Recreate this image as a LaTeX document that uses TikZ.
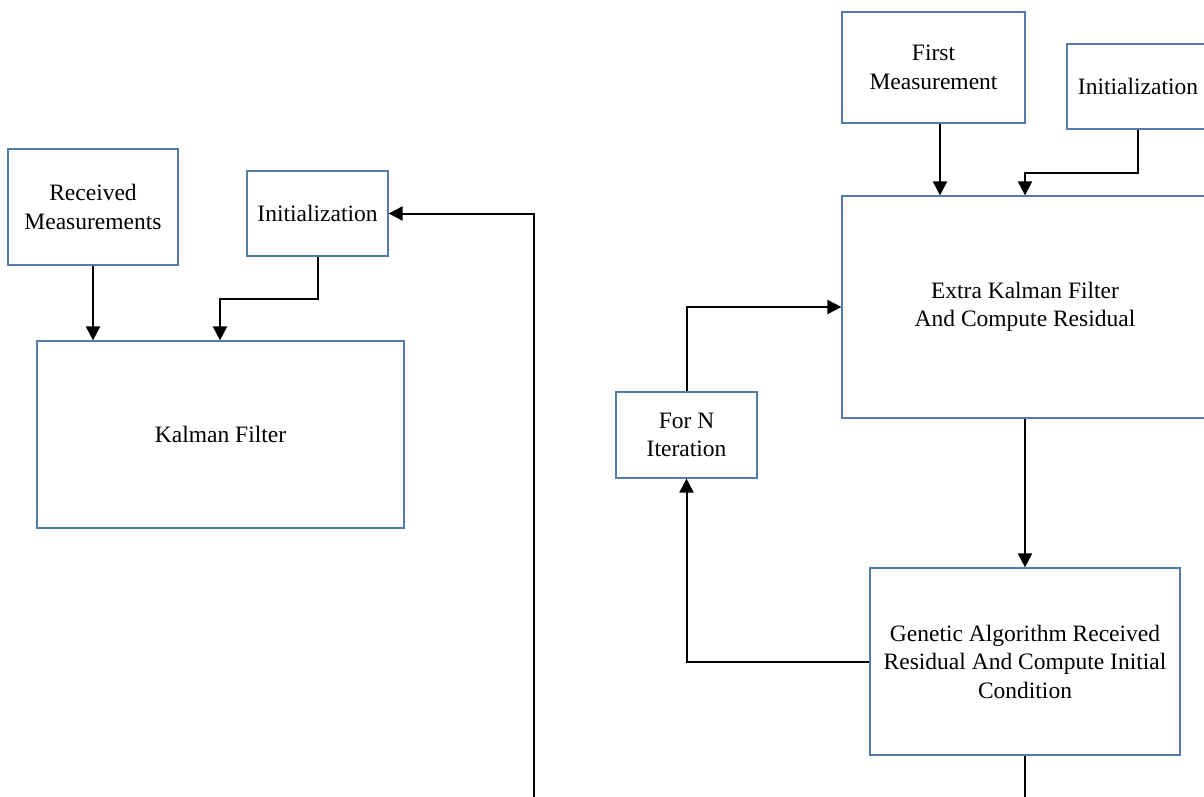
\documentclass[tikz,border=0pt]{standalone}
\usepackage{fontspec}
\setmainfont{Liberation Serif}
\usetikzlibrary{arrows.meta}
\begin{document}
\begin{tikzpicture}[x=1pt,y=-1pt,
  box/.style={draw=boxblue,line width=1.2pt,inner sep=0pt,align=center,
    font=\fontsize{23.5}{28.5}\selectfont},
  link/.style={line width=2pt,black},
  arr/.style={link,-{Triangle[length=14pt,width=14pt]}}]
\definecolor{boxblue}{RGB}{84,124,170}
\clip (0,0) rectangle (1204,797);
\useasboundingbox (0,0) rectangle (1204,797);
% left block
\node[box,minimum width=170pt,minimum height=116pt] (rm) at (93,207) {Received\\Measurements};
\node[box,minimum width=141pt,minimum height=85pt] (initl) at (317.5,213.5) {Initialization};
\node[box,minimum width=367pt,minimum height=187pt] (kf) at (220.5,434.5) {Kalman Filter};
% right block
\node[box,minimum width=183pt,minimum height=111pt] (fm) at (933.5,67.5) {First\\Measurement};
\node[box,minimum width=142pt,minimum height=85pt] (initr) at (1138,86.5) {Initialization};
\node[box,minimum width=366pt,minimum height=222pt] (ekf) at (1025,307) {Extra Kalman Filter\\And Compute Residual};
\node[box,minimum width=141pt,minimum height=86pt] (forn) at (686.5,435) {For N\\Iteration};
\node[box,minimum width=310pt,minimum height=187pt] (ga) at (1025,661.5) {Genetic Algorithm Received\\Residual And Compute Initial\\Condition};
\coordinate (lowin) at (534,800);
\coordinate (lowout) at (1025,800);
% connectors
\draw[arr] (rm.south) -- (rm.south |- kf.north);
\draw[arr] (initl.south) -- ++(0,42) -| (220,0 |- kf.north);
\draw[arr] (lowin) |- (initl.east);
\draw[arr] (940,0 |- fm.south) -- (940,0 |- ekf.north);
\draw[arr] (initr.south) -- ++(0,43) -| (ekf.north);
\draw[arr] (forn.north) |- (ekf.west |- 0,307);
\draw[arr] (ekf.south) -- (ga.north);
\draw[arr] (ga.west) -| (forn.south);
\draw[link] (ga.south) -- (lowout);
\end{tikzpicture}
\end{document}
